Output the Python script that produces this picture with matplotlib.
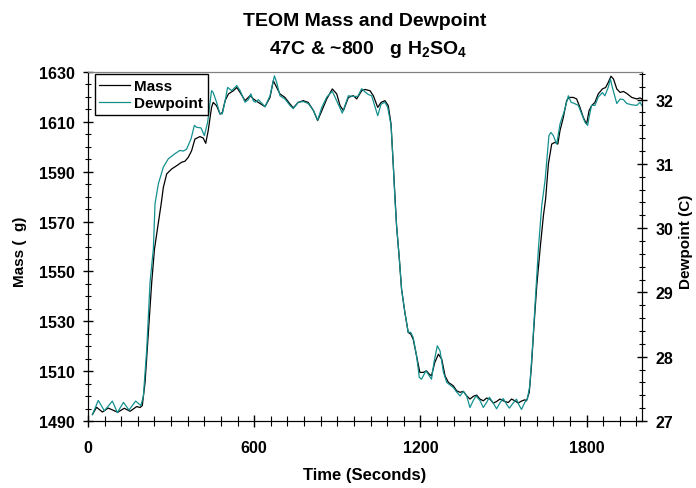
import matplotlib
matplotlib.use("Agg")
import matplotlib.pyplot as plt
from matplotlib.ticker import MultipleLocator
from matplotlib.lines import Line2D

plt.rcParams['font.family'] = ['Liberation Sans', 'DejaVu Sans']
plt.rcParams['font.weight'] = 'bold'
plt.rcParams['mathtext.fontset'] = 'custom'
plt.rcParams['mathtext.rm'] = 'Liberation Sans:bold'
plt.rcParams['mathtext.bf'] = 'Liberation Sans:bold'

# TEOM mass (left axis)
massTime = [16, 31, 52, 73, 107, 131, 152, 176, 188, 196, 206, 218, 230, 240, 264, 272, 284,
            302, 320, 338, 350, 362, 374, 386, 404, 416, 425, 434, 446, 452, 464, 477, 485,
            495, 507, 525, 537, 549, 567, 585, 597, 615, 639, 657, 669, 678, 693, 711, 729,
            741, 759, 777, 795, 814, 829, 844, 862, 882, 898, 910, 922, 940, 958, 970, 988,
            1000, 1018, 1030, 1046, 1058, 1072, 1084, 1094, 1102, 1110, 1114, 1124, 1132,
            1144, 1156, 1165, 1174, 1186, 1198, 1210, 1222, 1232, 1240, 1252, 1265, 1277,
            1289, 1301, 1319, 1331, 1343, 1355, 1367, 1379, 1391, 1403, 1415, 1427, 1439,
            1451, 1463, 1475, 1487, 1499, 1517, 1529, 1541, 1553, 1565, 1577, 1583, 1593,
            1601, 1610, 1620, 1632, 1644, 1652, 1662, 1674, 1686, 1696, 1704, 1716, 1728,
            1736, 1752, 1764, 1776, 1788, 1800, 1809, 1818, 1830, 1842, 1857, 1869, 1878,
            1888, 1897, 1909, 1921, 1933, 1945, 1963, 1981, 1993, 1999]
massValues = [1492.6, 1495.5, 1493.6, 1495.2, 1493.5, 1495.1, 1493.9, 1495.8, 1495.4, 1496.2,
              1505.5, 1525.6, 1545.6, 1559.0, 1577.0, 1583.7, 1589.1, 1591.1, 1592.4, 1593.8,
              1594.2, 1595.8, 1598.4, 1603.1, 1604.1, 1603.5, 1601.4, 1606.5, 1615.8, 1617.8,
              1616.5, 1613.1, 1613.8, 1618.5, 1621.2, 1622.5, 1623.8, 1621.8, 1618.5, 1620.5,
              1619.2, 1617.8, 1616.1, 1619.8, 1626.5, 1624.5, 1621.2, 1619.8, 1617.2, 1615.6,
              1617.8, 1618.5, 1617.8, 1614.5, 1610.5, 1614.5, 1619.2, 1623.2, 1621.2, 1616.5,
              1614.5, 1619.8, 1620.5, 1619.2, 1622.5, 1623.0, 1622.5, 1620.5, 1615.8, 1617.8,
              1618.5, 1616.5, 1609.1, 1593.1, 1577.5, 1568.3, 1554.9, 1542.9, 1533.5, 1525.5,
              1524.9, 1522.8, 1516.2, 1509.5, 1509.5, 1510.1, 1508.8, 1508.1, 1513.5, 1516.8,
              1514.8, 1508.1, 1505.5, 1504.1, 1502.1, 1501.5, 1501.9, 1500.1, 1498.8, 1499.9,
              1500.4, 1498.8, 1498.1, 1499.2, 1498.8, 1497.2, 1497.8, 1498.8, 1498.1, 1497.4,
              1498.8, 1498.1, 1497.2, 1498.0, 1498.5, 1498.1, 1501.5, 1512.2, 1528.2, 1544.2,
              1558.9, 1572.3, 1579.0, 1593.1, 1601.1, 1601.8, 1601.1, 1606.5, 1611.8, 1618.5,
              1619.8, 1619.8, 1619.2, 1615.8, 1611.8, 1609.1, 1614.5, 1616.5, 1617.8, 1621.2,
              1623.2, 1623.8, 1625.8, 1628.3, 1627.2, 1623.2, 1621.8, 1622.2, 1621.4, 1619.8,
              1619.2, 1619.6, 1619.2]

# dewpoint (right axis)
dewTime = [16, 37, 59, 88, 106, 128, 148, 172, 191, 200, 212, 224, 236, 242, 254, 272, 290,
           314, 332, 344, 356, 372, 384, 392, 408, 420, 432, 446, 452, 464, 476, 485, 495, 504,
           519, 537, 549, 567, 579, 588, 597, 605, 615, 624, 639, 657, 673, 681, 693, 711, 729,
           741, 759, 777, 795, 814, 829, 844, 862, 882, 898, 918, 940, 958, 974, 988, 1000,
           1012, 1024, 1046, 1058, 1072, 1082, 1094, 1102, 1108, 1114, 1124, 1132, 1144, 1156,
           1165, 1174, 1186, 1196, 1204, 1220, 1228, 1240, 1249, 1261, 1271, 1283, 1295, 1319,
           1331, 1343, 1355, 1367, 1379, 1391, 1401, 1415, 1427, 1439, 1449, 1463, 1475, 1487,
           1499, 1511, 1521, 1535, 1547, 1557, 1565, 1577, 1586, 1595, 1605, 1615, 1626, 1638,
           1650, 1664, 1671, 1680, 1692, 1704, 1720, 1734, 1744, 1756, 1770, 1782, 1794, 1804,
           1809, 1818, 1830, 1842, 1857, 1866, 1878, 1886, 1893, 1909, 1921, 1933, 1945, 1963,
           1981, 1993, 1999]
dewValues = [27.10, 27.32, 27.16, 27.31, 27.13, 27.29, 27.17, 27.31, 27.24, 27.39, 28.12, 29.16,
             29.68, 30.38, 30.69, 30.95, 31.08, 31.16, 31.21, 31.20, 31.23, 31.39, 31.60, 31.57,
             31.56, 31.44, 31.65, 32.14, 32.11, 31.96, 31.78, 31.78, 31.98, 32.19, 32.14, 32.22,
             32.14, 31.96, 32.00, 32.09, 31.98, 31.96, 32.00, 31.96, 31.89, 32.06, 32.37, 32.27,
             32.06, 32.01, 31.91, 31.86, 31.96, 31.97, 31.94, 31.83, 31.68, 31.88, 32.04, 32.13,
             31.98, 31.79, 32.06, 32.05, 32.05, 32.17, 32.12, 32.08, 32.06, 31.75, 31.93, 31.96,
             31.88, 31.60, 31.00, 30.45, 30.04, 29.52, 29.05, 28.69, 28.38, 28.38, 28.30, 28.02,
             27.68, 27.65, 27.78, 27.73, 27.65, 27.91, 28.17, 28.09, 27.76, 27.60, 27.52, 27.45,
             27.39, 27.46, 27.39, 27.21, 27.32, 27.39, 27.32, 27.21, 27.29, 27.37, 27.28, 27.19,
             27.28, 27.35, 27.26, 27.20, 27.28, 27.34, 27.24, 27.18, 27.29, 27.34, 27.55, 28.17,
             28.90, 29.68, 30.35, 30.74, 31.44, 31.49, 31.44, 31.31, 31.62, 31.83, 32.06, 31.96,
             31.94, 31.91, 31.78, 31.65, 31.60, 31.73, 31.91, 31.91, 32.04, 32.11, 32.06, 32.19,
             32.32, 32.19, 31.94, 32.01, 32.00, 31.94, 31.92, 31.91, 31.96, 31.91]

massColor = "black"
dewColor = "#14918f"

fig = plt.figure(figsize=(6.96, 4.89), dpi=100)
ax = fig.add_axes([88 / 696, 1 - 422 / 489, 554 / 696, 349 / 489])
ax2 = ax.twinx()

ax.plot(massTime, massValues, color=massColor, lw=0.9)
ax2.plot(dewTime, dewValues, color=dewColor, lw=0.9)

ax.set_xlim(0, 2000)
ax.set_ylim(1490, 1630)
ax2.set_ylim(27, 32.43)

ax.xaxis.set_major_locator(MultipleLocator(600))
ax.xaxis.set_minor_locator(MultipleLocator(60))
ax.yaxis.set_major_locator(MultipleLocator(20, offset=10))
ax.yaxis.set_minor_locator(MultipleLocator(5))
ax2.yaxis.set_major_locator(MultipleLocator(1))
ax2.yaxis.set_minor_locator(MultipleLocator(0.2))

ax.tick_params(axis='x', which='major', direction='inout', length=9, width=1, pad=9, labelsize=11.5)
ax.tick_params(axis='x', which='minor', direction='inout', length=7, width=0.8)
ax.tick_params(axis='y', which='major', direction='inout', length=7, width=1, pad=6, labelsize=11.5)
ax.tick_params(axis='y', which='minor', direction='inout', length=5, width=0.8)
ax2.tick_params(axis='y', which='major', direction='inout', length=7, width=1, pad=6, labelsize=11.5)
ax2.tick_params(axis='y', which='minor', direction='inout', length=5, width=0.8)

for a in (ax, ax2):
    a.spines['top'].set_color('#808080')
    a.spines['top'].set_linewidth(0.8)

# title and axis labels
fig.text(365 / 696, 1 - 21 / 489, "TEOM Mass and Dewpoint", ha='center', va='center',
         fontsize=14, fontweight='bold')
fig.text(368 / 696, 1 - 50 / 489, r"47C & ~800   g H$_\mathbf{2}$SO$_\mathbf{4}$",
         ha='center', va='center', fontsize=14, fontweight='bold')
fig.text(365 / 696, 1 - 476 / 489, "Time (Seconds)", ha='center', va='center',
         fontsize=12, fontweight='bold')
fig.text(20 / 696, 1 - 252 / 489, "Mass (  g)", rotation=90, ha='center', va='center',
         fontsize=11, fontweight='bold')
fig.text(686 / 696, 1 - 242 / 489, "Dewpoint (C)", rotation=90, ha='center', va='center',
         fontsize=11, fontweight='bold')

handles = [Line2D([], [], color=massColor, lw=0.9), Line2D([], [], color=dewColor, lw=0.9)]
leg = ax2.legend(handles, ["Mass", "Dewpoint"], loc='upper left', bbox_to_anchor=(0.012, 0.993),
                 borderaxespad=0, fontsize=11, fancybox=False, framealpha=1, edgecolor='black',
                 handlelength=2.0, handletextpad=0.3, borderpad=0.3, labelspacing=0.2)
leg.get_frame().set_linewidth(1)

plt.savefig("out.png", dpi=100)
plt.close()
